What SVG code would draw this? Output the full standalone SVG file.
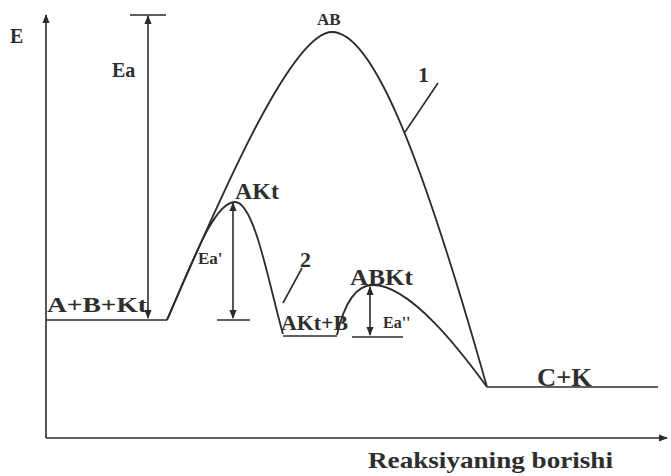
<svg xmlns="http://www.w3.org/2000/svg" width="671" height="476" viewBox="0 0 671 476">
<style>
.ln{fill:none;stroke:#2b2b2b;stroke-width:1.6}
.cv{fill:none;stroke:#2b2b2b;stroke-width:1.8}
.t{font-family:"Liberation Serif","Times New Roman",serif;font-weight:bold;fill:#2e2e2e}
</style>
<defs>
<marker id="ah" viewBox="0 0 10 10" refX="9" refY="5" markerWidth="9" markerHeight="9" markerUnits="userSpaceOnUse" orient="auto-start-reverse">
<path d="M0,1 L10,5 L0,9 Z" fill="#2b2b2b"/>
</marker>
</defs>
<rect width="671" height="476" fill="#ffffff"/>
<g id="axes">
<line class="ln" x1="46" y1="438" x2="46" y2="15" marker-end="url(#ah)"/>
<line class="ln" x1="46" y1="438" x2="667" y2="438" marker-end="url(#ah)"/>
<text class="t" x="10" y="43" font-size="20">E</text>
<text class="t" x="368" y="468" font-size="24" textLength="245" lengthAdjust="spacingAndGlyphs">Reaksiyaning borishi</text>
</g>
<g id="levels">
<line class="ln" x1="46" y1="320" x2="167" y2="320"/>
<line class="ln" x1="283" y1="336" x2="337" y2="336"/>
<line class="ln" x1="487" y1="387" x2="658" y2="387"/>
<line class="ln" x1="130" y1="15" x2="166" y2="15"/>
<line class="ln" x1="217" y1="320" x2="250" y2="320"/>
<line class="ln" x1="352" y1="337" x2="403" y2="337"/>
</g>
<g id="curve1">
<path class="cv" d="M167,320 C215,210 290,32 332,32 C372,32 420,150 487,387"/>
</g>
<g id="curve2">
<path class="cv" d="M167,320 C195,255 215,202 235,202 C255,202 270,290 283,334"/>
<path class="cv" d="M337,335 C345,300 358,285 373,285 C410,285 460,350 487,387"/>
</g>
<g id="connectors">
<line class="ln" x1="148" y1="318" x2="148" y2="16" marker-start="url(#ah)" marker-end="url(#ah)"/>
<line class="ln" x1="233" y1="318" x2="233" y2="203" marker-start="url(#ah)" marker-end="url(#ah)"/>
<line class="ln" x1="370" y1="335" x2="370" y2="287" marker-start="url(#ah)" marker-end="url(#ah)"/>
<line class="ln" x1="405" y1="132" x2="438" y2="83"/>
<line class="ln" x1="283" y1="303" x2="302" y2="268"/>
</g>
<g id="labels">
<text class="t" x="112" y="77" font-size="20">Ea</text>
<text class="t" x="198" y="264" font-size="17">Ea'</text>
<text class="t" x="383" y="328" font-size="16">Ea''</text>
<text class="t" x="317" y="25" font-size="17">AB</text>
<text class="t" x="47" y="312" font-size="22" textLength="100" lengthAdjust="spacingAndGlyphs">A+B+Kt</text>
<text class="t" x="235" y="199" font-size="24">AKt</text>
<text class="t" x="281" y="330" font-size="21" textLength="67" lengthAdjust="spacingAndGlyphs">AKt+B</text>
<text class="t" x="350" y="285" font-size="24" textLength="63" lengthAdjust="spacingAndGlyphs">ABKt</text>
<text class="t" x="537" y="386" font-size="26" textLength="55" lengthAdjust="spacingAndGlyphs">C+K</text>
<text class="t" x="418" y="82" font-size="22">1</text>
<text class="t" x="300" y="267" font-size="22">2</text>
</g>
</svg>
